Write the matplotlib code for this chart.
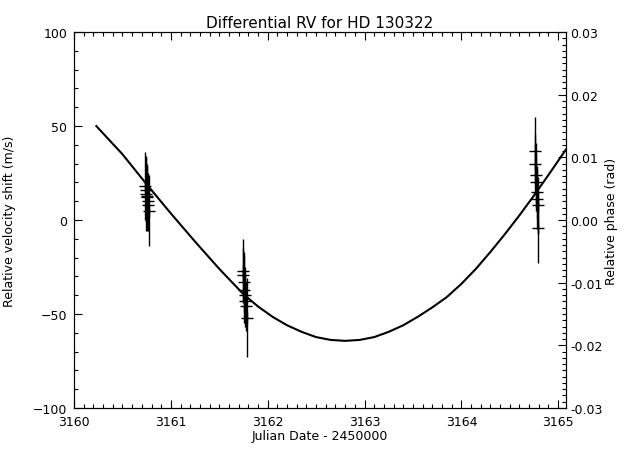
import matplotlib
matplotlib.use('Agg')
import matplotlib.pyplot as plt
from matplotlib.ticker import MultipleLocator, FormatStrFormatter

# fitted curve
fit_t = [3160.23, 3160.5, 3160.75, 3161.0, 3161.25, 3161.5, 3161.75, 3161.9,
         3162.05, 3162.2, 3162.35, 3162.5, 3162.65, 3162.8, 3162.95, 3163.1,
         3163.25, 3163.4, 3163.55, 3163.7, 3163.85, 3164.0, 3164.15, 3164.3,
         3164.45, 3164.6, 3164.75, 3164.9, 3165.08]
fit_rv = [50, 35, 19, 3.5, -11.5, -26, -39.5, -46, -51.5, -56, -59.5, -62.3,
          -63.8, -64.3, -63.8, -62.3, -59.5, -56, -51.5, -46.5, -41, -34, -26,
          -17, -7.5, 2.5, 13, 24, 37.5]

# measurements (three nights)
t1 = [3160.735, 3160.74, 3160.745, 3160.75, 3160.755, 3160.76, 3160.765, 3160.77]
rv1 = [18, 16, 14, 13, 12, 10, 8, 5]
err1 = [18, 17, 20, 16, 18, 15, 14, 19]

t2 = [3161.745, 3161.75, 3161.755, 3161.76, 3161.765, 3161.77, 3161.775, 3161.785]
rv2 = [-27, -29, -33, -37, -40, -43, -46, -52]
err2 = [17, 14, 16, 18, 15, 14, 13, 21]

t3 = [3164.76, 3164.765, 3164.77, 3164.775, 3164.78, 3164.785, 3164.79, 3164.795]
rv3 = [37, 30, 24, 20, 15, 11, 8, -4]
err3 = [18, 16, 17, 15, 14, 16, 15, 19]

font = {'family': 'DejaVu Sans', 'size': 9}


def main():
    plt.rc('font', **font)
    fig = plt.figure(figsize=(6.33, 4.6), dpi=100)
    ax = fig.add_axes([0.117, 0.111, 0.777, 0.817])

    ax.plot(fit_t, fit_rv, color='black', lw=1.5)
    for t, rv, err in [(t1, rv1, err1), (t2, rv2, err2), (t3, rv3, err3)]:
        ax.errorbar(t, rv, yerr=err, fmt='+', color='black', ms=8, mew=1.0,
                    elinewidth=1.0, capsize=0)

    ax.set_xlim(3160, 3165.08)
    ax.set_ylim(-100, 100)
    ax.xaxis.set_major_locator(MultipleLocator(1))
    ax.xaxis.set_minor_locator(MultipleLocator(0.1))
    ax.yaxis.set_major_locator(MultipleLocator(50))
    ax.yaxis.set_minor_locator(MultipleLocator(10))
    ax.tick_params(which='both', direction='in', top=True, right=False, width=0.8)
    ax.tick_params(which='major', length=6, pad=5)
    ax.tick_params(which='minor', length=3)
    ax.set_title('Differential RV for HD 130322', fontsize=11, pad=4)
    ax.set_xlabel('Julian Date - 2450000', labelpad=1)
    ax.set_ylabel('Relative velocity shift (m/s)', labelpad=12)

    ax2 = ax.twinx()
    ax2.set_ylim(-0.03, 0.03)
    ax2.yaxis.set_major_locator(MultipleLocator(0.01))
    ax2.yaxis.set_minor_locator(MultipleLocator(0.001))
    ax2.yaxis.set_major_formatter(FormatStrFormatter('%.2f'))
    ax2.tick_params(which='both', direction='in', width=0.8)
    ax2.tick_params(which='major', length=6, pad=3)
    ax2.tick_params(which='minor', length=3)
    ax2.set_ylabel('Relative phase (rad)', labelpad=2)

    for a in (ax, ax2):
        for s in a.spines.values():
            s.set_linewidth(0.8)

    plt.savefig('out.png', dpi=100)


if __name__ == '__main__':
    main()
